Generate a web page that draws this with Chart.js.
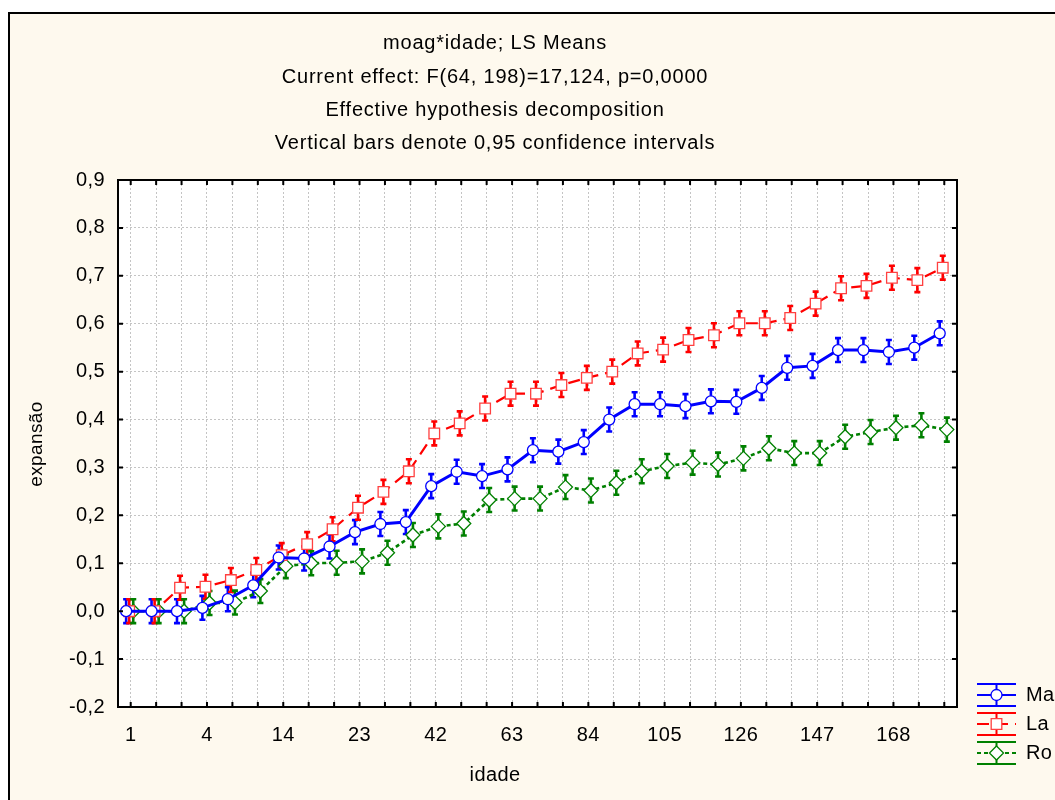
<!DOCTYPE html>
<html><head><meta charset="utf-8">
<script src="https://cdn.jsdelivr.net/npm/chart.js@4.4.0/dist/chart.umd.min.js"></script>
<style>html,body{margin:0;padding:0;background:#fff;}#wrap{width:1055px;height:800px;position:relative;}canvas{display:block;}</style>
</head><body><div id="wrap"><canvas id="c" width="1055" height="800"></canvas></div>
<script>
// ---- data ----
const TITLE_LINES = ['moag*idade; LS Means', 'Current effect: F(64, 198)=17,124, p=0,0000', 'Effective hypothesis decomposition', 'Vertical bars denote 0,95 confidence intervals'];
const X_TITLE = 'idade';
const Y_TITLE = 'expansão';
const X_TICK_LABELS = ['1','','','4','','','14','','','23','','','42','','','63','','','84','','','105','','','126','','','147','','','168','',''];
const Y_MIN = -0.2, Y_MAX = 0.9, Y_STEP = 0.1;
const SERIES_NAMES = ['Ma', 'La', 'Ro'];
const MA = [0.000,0.000,0.000,0.007,0.025,0.054,0.112,0.110,0.135,0.165,0.182,0.186,0.261,0.291,0.282,0.296,0.336,0.333,0.353,0.400,0.432,0.432,0.428,0.438,0.437,0.466,0.508,0.512,0.545,0.545,0.541,0.550,0.580];
const LA = [0.000,0.000,0.049,0.051,0.065,0.086,0.117,0.140,0.171,0.216,0.249,0.292,0.371,0.392,0.423,0.454,0.454,0.472,0.487,0.500,0.538,0.546,0.566,0.576,0.601,0.601,0.612,0.642,0.674,0.679,0.696,0.691,0.717];
const RO = [0.000,0.000,0.000,0.017,0.018,0.042,0.094,0.100,0.101,0.104,0.122,0.159,0.177,0.183,0.232,0.235,0.235,0.259,0.252,0.268,0.292,0.303,0.310,0.306,0.319,0.340,0.330,0.330,0.364,0.374,0.383,0.388,0.379];
const CI_MA = 0.025, CI_LA = 0.025, CI_RO = 0.025;

// ---- styles ----
const FONT = '"Liberation Sans", Arial, sans-serif';
const STY = [
  {color:'#0000ff', mark:'#0000ff', style:'circle', r:5.5, dash:[], lw:3, shift:-0.18},
  {color:'#ff0000', mark:'#ff4040', style:'rect', r:7.5, dash:[12,7], lw:2.2, shift:-0.06},
  {color:'#008000', mark:'#008000', style:'rectRot', r:7, dash:[4,3], lw:2.6, shift:0.10}
];
const SERIES = [MA, LA, RO];
const CIS = [CI_MA, CI_LA, CI_RO];

const datasets = SERIES.map((arr, k) => ({
  label: SERIES_NAMES[k],
  data: arr.map((v, i) => ({x: i + STY[k].shift, y: v})),
  ci: CIS[k],
  borderColor: STY[k].color,
  borderWidth: STY[k].lw,
  borderDash: STY[k].dash,
  pointStyle: STY[k].style,
  pointRadius: STY[k].r,
  pointBorderColor: STY[k].mark,
  pointBackgroundColor: '#ffffff',
  pointBorderWidth: 1.3,
  tension: 0,
  fill: false
}));

const bgPlugin = {
  id: 'bg',
  beforeDraw(chart) {
    const ctx = chart.ctx, a = chart.chartArea;
    ctx.save();
    ctx.fillStyle = '#ffffff';
    ctx.fillRect(0, 0, chart.width, chart.height);
    ctx.fillStyle = '#fef9ee';
    ctx.fillRect(9, 13, chart.width, chart.height);
    ctx.strokeStyle = '#000'; ctx.lineWidth = 2;
    ctx.beginPath(); ctx.moveTo(9, chart.height); ctx.lineTo(9, 13); ctx.lineTo(chart.width, 13); ctx.stroke();
    ctx.fillStyle = '#ffffff';
    ctx.fillRect(a.left, a.top, a.right - a.left, a.bottom - a.top);
    // titles
    ctx.fillStyle = '#000';
    ctx.font = '20px ' + FONT;
    ctx.letterSpacing = '0.8px';
    ctx.textAlign = 'center'; ctx.textBaseline = 'middle';
    const ys = [43, 77, 110, 143];
    TITLE_LINES.forEach((t, i) => ctx.fillText(t, 495, ys[i]));
    ctx.letterSpacing = '0.4px';
    ctx.fillText(X_TITLE, 495, 775);
    ctx.font = '19px ' + FONT;
    ctx.translate(37, 444); ctx.rotate(-Math.PI / 2);
    ctx.fillText(Y_TITLE, 0, 0);
    ctx.restore();
    ctx.letterSpacing = '0.4px';
  }
};

function drawMarker(ctx, style, x, y, r, stroke) {
  ctx.save();
  ctx.fillStyle = '#fff'; ctx.strokeStyle = stroke; ctx.lineWidth = 1.3; ctx.setLineDash([]);
  ctx.beginPath();
  if (style === 'circle') ctx.arc(x, y, r, 0, Math.PI * 2);
  else if (style === 'rect') { const s = r * Math.SQRT1_2; ctx.rect(x - s, y - s, 2 * s, 2 * s); }
  else { ctx.moveTo(x, y - r); ctx.lineTo(x + r, y); ctx.lineTo(x, y + r); ctx.lineTo(x - r, y); ctx.closePath(); }
  ctx.fill(); ctx.stroke();
  ctx.restore();
}

const errPlugin = {
  id: 'err',
  beforeDatasetsDraw(chart) {
    const ctx = chart.ctx, ys = chart.scales.y;
    ctx.save();
    chart.data.datasets.forEach((ds, k) => {
      const meta = chart.getDatasetMeta(k);
      ctx.strokeStyle = STY[k].color; ctx.lineWidth = 2.6; ctx.setLineDash([]);
      meta.data.forEach((pt, i) => {
        const v = ds.data[i].y;
        const yt = ys.getPixelForValue(v + ds.ci), yb = ys.getPixelForValue(v - ds.ci);
        ctx.beginPath();
        ctx.moveTo(pt.x, yt); ctx.lineTo(pt.x, yb);
        ctx.moveTo(pt.x - 3, yt); ctx.lineTo(pt.x + 3, yt);
        ctx.moveTo(pt.x - 3, yb); ctx.lineTo(pt.x + 3, yb);
        ctx.stroke();
      });
    });
    ctx.restore();
  },
  afterDraw(chart) {
    const ctx = chart.ctx, a = chart.chartArea, xs = chart.scales.x, ys = chart.scales.y;
    ctx.save();
    ctx.strokeStyle = '#000'; ctx.lineWidth = 2; ctx.setLineDash([]);
    ctx.strokeRect(a.left, a.top, a.right - a.left, a.bottom - a.top);
    ctx.beginPath();
    xs.ticks.forEach(t => {
      const px = xs.getPixelForValue(t.value);
      ctx.moveTo(px, a.bottom); ctx.lineTo(px, a.bottom - 5);
      ctx.moveTo(px, a.top); ctx.lineTo(px, a.top + 5);
    });
    ys.ticks.forEach(t => {
      const py = ys.getPixelForValue(t.value);
      ctx.moveTo(a.left, py); ctx.lineTo(a.left + 5, py);
      ctx.moveTo(a.right, py); ctx.lineTo(a.right - 5, py);
    });
    ctx.stroke();
    // legend
    const cys = [695, 724, 753];
    SERIES_NAMES.forEach((name, k) => {
      const cy = cys[k], x0 = 977, x1 = 1016, xm = (x0 + x1) / 2, h = 11;
      ctx.strokeStyle = STY[k].color; ctx.lineWidth = 2; ctx.setLineDash([]);
      ctx.beginPath();
      ctx.moveTo(x0, cy - h); ctx.lineTo(x1, cy - h);
      ctx.moveTo(x0, cy + h); ctx.lineTo(x1, cy + h);
      ctx.moveTo(xm, cy - h); ctx.lineTo(xm, cy + h);
      ctx.stroke();
      ctx.setLineDash(STY[k].dash); ctx.lineWidth = 2;
      ctx.beginPath(); ctx.moveTo(x0, cy); ctx.lineTo(x1, cy); ctx.stroke();
      ctx.setLineDash([]);
      drawMarker(ctx, STY[k].style, xm, cy, STY[k].style === 'circle' ? 5.5 : (STY[k].style === 'rect' ? 7.5 : 7), STY[k].mark);
      ctx.fillStyle = '#000'; ctx.font = '20px ' + FONT; ctx.textAlign = 'left'; ctx.textBaseline = 'middle';
      ctx.fillText(name, 1026, cy);
    });
    ctx.restore();
  }
};

new Chart(document.getElementById('c'), {
  type: 'line',
  data: {datasets},
  options: {
    responsive: false,
    animation: false,
    events: [],
    layout: {padding: {left: 0, top: 180, right: 98, bottom: 0}},
    plugins: {legend: {display: false}, title: {display: false}, tooltip: {enabled: false}},
    scales: {
      x: {
        type: 'linear', min: -0.5, max: X_TICK_LABELS.length - 0.5,
        afterBuildTicks: (s) => { s.ticks = X_TICK_LABELS.map((_, i) => ({value: i})); },
        afterFit: (s) => { s.height = 93; },
        grid: {color: '#c4c4c4', lineWidth: 1, drawTicks: false},
        border: {display: false, dash: [2, 2]},
        ticks: {autoSkip: false, maxRotation: 0, padding: 16, color: '#000', font: {family: FONT, size: 20},
          callback: (v) => X_TICK_LABELS[Math.round(v)] || ''}
      },
      y: {
        type: 'linear', min: Y_MIN, max: Y_MAX,
        afterFit: (s) => { s.width = 118; },
        grid: {color: '#c4c4c4', lineWidth: 1, drawTicks: false},
        border: {display: false, dash: [2, 2]},
        ticks: {stepSize: Y_STEP, padding: 13, color: '#000', font: {family: FONT, size: 20},
          callback: (v) => v.toFixed(1).replace('.', ',')}
      }
    }
  },
  plugins: [bgPlugin, errPlugin]
});
</script></body></html>
